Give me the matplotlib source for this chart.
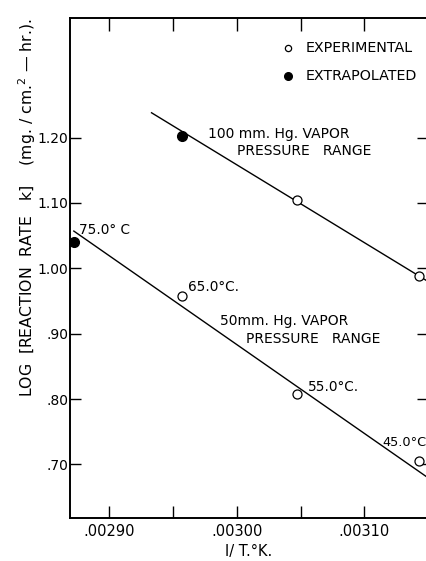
import matplotlib.pyplot as plt
from matplotlib.ticker import FixedLocator, FuncFormatter

plt.rcParams['font.family'] = ['DejaVu Sans']

# experimental points (open circles)
exp50_x = [0.002957, 0.003047, 0.003143]
exp50_y = [0.957, 0.808, 0.705]
exp100_x = [0.003047, 0.003143]
exp100_y = [1.105, 0.988]

# extrapolated points (filled)
ext_x = [0.002872, 0.002957]
ext_y = [1.040, 1.203]

# fitted lines
line50_x = [0.002872, 0.00316]
line50_y = [1.057, 0.666]
line100_x = [0.002933, 0.00316]
line100_y = [1.238, 0.968]

temp_labels = ['75.0° C', '65.0°C.', '55.0°C.', '45.0°C']
xticks = [0.00290, 0.00300, 0.00310]
xminor = [0.00295, 0.00305]
yticks = [0.70, 0.80, 0.90, 1.00, 1.10, 1.20]
ytick_labels = ['.70', '.80', '.90', '1.00', '1.10', '1.20']

fig = plt.figure(figsize=(4.26, 5.61), dpi=100)
ax = fig.add_axes([70 / 426, 1 - 518 / 561, 358 / 426, 500 / 561])

ax.plot(line50_x, line50_y, color='black', lw=1.0)
ax.plot(line100_x, line100_y, color='black', lw=1.0)
ax.plot(exp50_x + exp100_x, exp50_y + exp100_y, 'o', ms=6.5, mfc='white',
        mec='black', mew=0.9, ls='none')
ax.plot(ext_x, ext_y, 'o', ms=7, color='black', ls='none')

ax.set_xlim(0.002869, 0.003150)
ax.set_ylim(0.618, 1.383)

ax.xaxis.set_major_locator(FixedLocator(xticks))
ax.xaxis.set_minor_locator(FixedLocator(xminor))
ax.xaxis.set_major_formatter(FuncFormatter(lambda v, p: ('%.5f' % v)[1:]))
ax.yaxis.set_major_locator(FixedLocator(yticks))
ax.set_yticklabels(ytick_labels)

ax.tick_params(axis='x', which='both', direction='in', top=True, length=9,
               width=1.0, labelsize=10.5, pad=4)
ax.tick_params(axis='y', which='both', direction='in', right=True, length=8,
               width=1.0, labelsize=10, pad=1)
for s in ax.spines.values():
    s.set_linewidth(1.4)

# legend-like key
ax.plot([0.003040], [1.337], 'o', ms=4.5, mfc='white', mec='black', mew=0.9)
ax.plot([0.003040], [1.294], 'o', ms=5.5, color='black')
ax.text(0.003054, 1.337, 'EXPERIMENTAL', fontsize=10.3, va='center')
ax.text(0.003054, 1.294, 'EXTRAPOLATED', fontsize=10.3, va='center')

# annotations
ax.text(0.002977, 1.205, '100 mm. Hg. VAPOR', fontsize=10, va='center')
ax.text(0.003000, 1.180, 'PRESSURE   RANGE', fontsize=10, va='center')
ax.text(0.002987, 0.920, '50mm. Hg. VAPOR', fontsize=10, va='center')
ax.text(0.003007, 0.892, 'PRESSURE   RANGE', fontsize=10, va='center')

ax.text(0.002876, 1.059, temp_labels[0], fontsize=9.8, va='center')
ax.text(0.002962, 0.971, temp_labels[1], fontsize=9.8, va='center')
ax.text(0.003056, 0.818, temp_labels[2], fontsize=9.8, va='center')
ax.text(0.003114, 0.733, temp_labels[3], fontsize=9.3, va='center')

ax.set_xlabel('I/ T.°K.', fontsize=10.5, labelpad=4)
fig.text(27 / 426, 1 - 208 / 561,
         'LOG  [REACTION  RATE   k]    (mg. / cm.$^2$ — hr.).',
         rotation=90, fontsize=11.3, ha='center', va='center')

fig.savefig('out.png', dpi=100)
